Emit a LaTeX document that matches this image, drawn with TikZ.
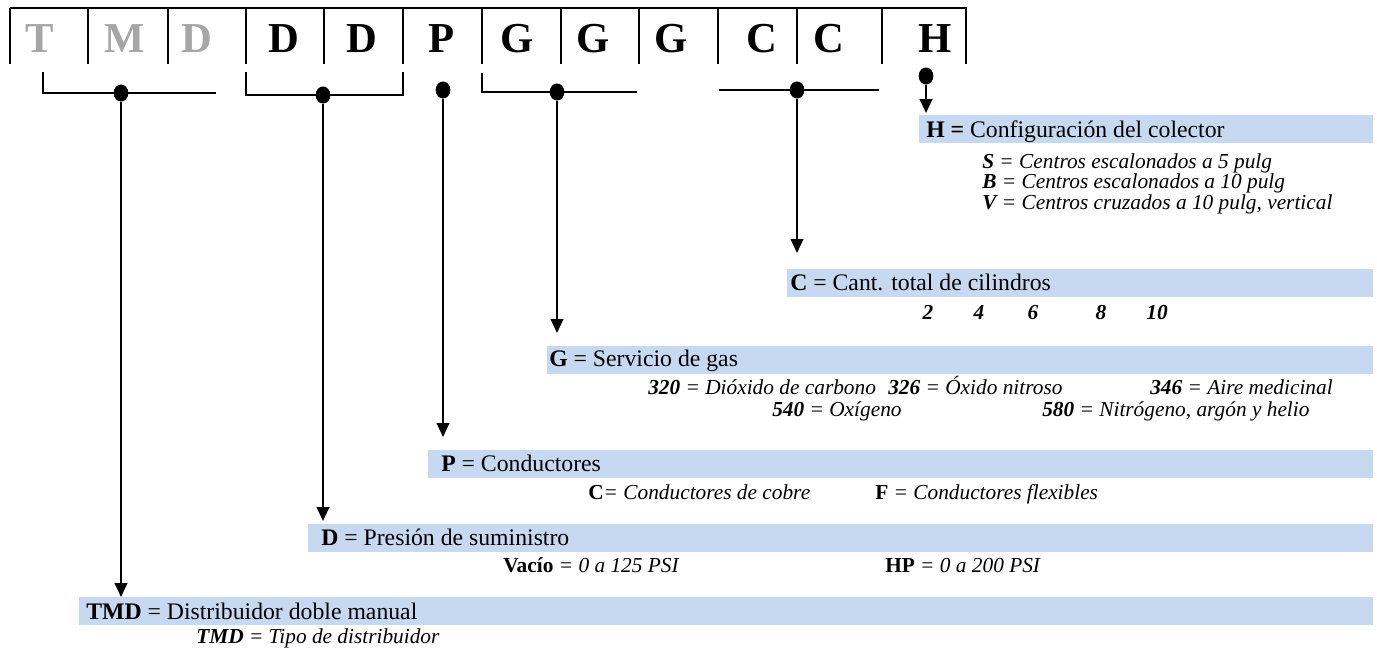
\documentclass[tikz,border=0pt]{standalone}
\usepackage{fontspec}
\setmainfont{Liberation Serif}
\usetikzlibrary{arrows.meta,shapes.geometric}
\definecolor{barblue}{HTML}{C6D9F1}
\definecolor{lettergray}{HTML}{A6A6A6}
\tikzset{
  frameline/.style={line width=1.6pt},
  lnk/.style={line width=1.5pt},
  arr/.style={line width=1.5pt,-{Triangle[width=9.5pt,length=10.5pt]}},
  dotn/.style={ellipse,fill=black,inner sep=0pt,minimum width=11pt,minimum height=12.8pt},
  letter/.style={font=\fontsize{32}{36}\selectfont\bfseries,inner sep=0pt,anchor=base},
  bar/.style={fill=barblue,inner sep=0pt,anchor=north west,minimum height=21pt},
  maintxt/.style={font=\fontsize{17.8}{20}\selectfont,inner sep=0pt,anchor=base west},
  subtxt/.style={font=\fontsize{16}{18}\selectfont\itshape,inner sep=0pt,anchor=base west},
  numtxt/.style={font=\fontsize{16}{18}\selectfont\itshape\bfseries,inner sep=0pt,anchor=base},
}
\begin{document}
\begin{tikzpicture}[x=0.75pt,y=-0.75pt]
\useasboundingbox (0,0) rectangle (1377,647);
% ---------- code row ----------
\draw[frameline] (10,8) -- (967,8);
\foreach \x in {10,88,168,246,324,403,482,561,639,718,797,882,966}
  \draw[frameline] (\x,8) -- (\x,64);
\node[letter,text=lettergray] (l1) at (40,52) {T};
\node[letter,text=lettergray] (l2) at (125,52) {M};
\node[letter,text=lettergray] (l3) at (197,52) {D};
\node[letter] (l4) at (284,52) {D};
\node[letter] (l5) at (362,52) {D};
\node[letter] (l6) at (442,52) {P};
\node[letter] (l7) at (517,52) {G};
\node[letter] (l8) at (593,52) {G};
\node[letter] (l9) at (671,52) {G};
\node[letter] (l10) at (762,52) {C};
\node[letter] (l11) at (829,52) {C};
\node[letter] (l12) at (935,52) {H};
% ---------- brackets and dots ----------
\draw[lnk] (43,72) -- (43,93) -- (216,93);
\draw[lnk] (246,72) -- (246,95) -- (403,95) -- (403,72);
\draw[lnk] (482,73) -- (482,92) -- (637,92);
\draw[lnk] (719,90) -- (879,90);
\node[dotn] (dTMD) at (121,93) {};
\node[dotn] (dD) at (323,95) {};
\node[dotn] (dP) at (443,90) {};
\node[dotn] (dG) at (557,92) {};
\node[dotn] (dC) at (797,90) {};
\node[dotn] (dH) at (926,76) {};
% ---------- arrow ends ----------
\coordinate (eTMD) at (121,597);
\coordinate (eD) at (323,521);
\coordinate (eP) at (443,437);
\coordinate (eG) at (557,333);
\coordinate (eC) at (797,253);
\coordinate (eH) at (926,113);
\draw[arr] (dTMD) -- (eTMD);
\draw[arr] (dD) -- (eD);
\draw[arr] (dP) -- (eP);
\draw[arr] (dG) -- (eG);
\draw[arr] (dC) -- (eC);
\draw[arr] (dH) -- (eH);
% ---------- H ----------
\node[bar,minimum width={(1373-919)*0.75pt}] (bH) at (919,115) {};
\node[maintxt] (tH) at (926,137) {\textbf{H =} Configuración del colector};
\node[subtxt] (tH1) at (982,168) {\textbf{S} = Centros escalonados a 5 pulg};
\node[subtxt] (tH2) at (982,188) {\textbf{B} = Centros escalonados a 10 pulg};
\node[subtxt] (tH3) at (982,209) {\textbf{V} = Centros cruzados a 10 pulg, vertical};
% ---------- C ----------
\node[bar,minimum width={(1373-787)*0.75pt}] (bC) at (787,269) {};
\node[maintxt] (tC) at (790,290) {\textbf{C} = Cant. total de cilindros};
\node[numtxt] (n2) at (928,319) {2};
\node[numtxt] (n4) at (979,319) {4};
\node[numtxt] (n6) at (1033,319) {6};
\node[numtxt] (n8) at (1101,319) {8};
\node[numtxt] (n10) at (1157,319) {10};
% ---------- G ----------
\node[bar,minimum width={(1373-547)*0.75pt}] (bG) at (547,346) {};
\node[maintxt] (tG) at (549,366) {\textbf{G} = Servicio de gas};
\node[subtxt] (tG1) at (648,394) {\textbf{320} = Dióxido de carbono};
\node[subtxt] (tG2) at (888,394) {\textbf{326} = Óxido nitroso};
\node[subtxt] (tG3) at (1150,394) {\textbf{346} = Aire medicinal};
\node[subtxt] (tG4) at (772,416) {\textbf{540} = Oxígeno};
\node[subtxt] (tG5) at (1042,416) {\textbf{580} = Nitrógeno, argón y helio};
% ---------- P ----------
\node[bar,minimum width={(1373-428)*0.75pt}] (bP) at (428,450) {};
\node[maintxt] (tP) at (441,471) {\textbf{P} = Conductores};
\node[subtxt] (tP1) at (588,499) {\textbf{\upshape C}= Conductores de cobre};
\node[subtxt] (tP2) at (875,499) {\textbf{\upshape F} = Conductores flexibles};
% ---------- D ----------
\node[bar,minimum width={(1373-308)*0.75pt}] (bD) at (308,524) {};
\node[maintxt] (tD) at (321,545) {\textbf{D} = Presión de suministro};
\node[subtxt] (tD1) at (503,572) {\textbf{\upshape Vacío} = 0 a 125 PSI};
\node[subtxt] (tD2) at (885,572) {\textbf{\upshape HP} = 0 a 200 PSI};
% ---------- TMD ----------
\node[bar,minimum width={(1373-79)*0.75pt}] (bT) at (79,597) {};
\node[maintxt] (tT) at (86,619) {\textbf{TMD} = Distribuidor doble manual};
\node[subtxt] (tT1) at (196,643) {\textbf{TMD} = Tipo de distribuidor};
\end{tikzpicture}
\end{document}
